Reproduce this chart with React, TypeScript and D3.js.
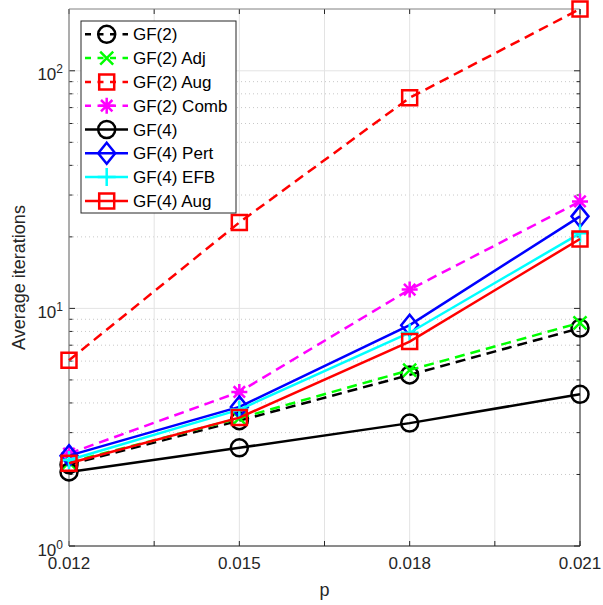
import React from "react";
import * as d3 from "d3";

const P = [0.012, 0.015, 0.018, 0.021];
const GF2 = [2.2, 3.37, 5.25, 8.26];
const GF2_ADJ = [2.25, 3.45, 5.5, 8.7];
const GF2_AUG = [6.05, 23.0, 77, 182];
const GF2_COMB = [2.45, 4.45, 12.0, 28.2];
const GF4 = [2.05, 2.59, 3.29, 4.35];
const GF4_PERT = [2.4, 3.85, 8.5, 24.4];
const GF4_EFB = [2.3, 3.75, 7.9, 20.7];
const GF4_AUG = [2.23, 3.47, 7.25, 19.6];

const X_TICKS = [0.012, 0.0135, 0.015, 0.0165, 0.018, 0.0195, 0.021];
const X_TICK_LABELS = ["0.012", "", "0.015", "", "0.018", "", "0.021"];
const Y_TICKS = [1, 10, 100];
const Y_TICK_EXP = ["0", "1", "2"];

const SERIES = [
  { name: "GF(2)", values: GF2, color: "#000000", dash: true, marker: "circle" },
  { name: "GF(2) Adj", values: GF2_ADJ, color: "#00ff00", dash: true, marker: "x" },
  { name: "GF(2) Aug", values: GF2_AUG, color: "#ff0000", dash: true, marker: "square" },
  { name: "GF(2) Comb", values: GF2_COMB, color: "#ff00ff", dash: true, marker: "asterisk" },
  { name: "GF(4)", values: GF4, color: "#000000", dash: false, marker: "circle" },
  { name: "GF(4) Pert", values: GF4_PERT, color: "#0000ff", dash: false, marker: "diamond" },
  { name: "GF(4) EFB", values: GF4_EFB, color: "#00ffff", dash: false, marker: "plus" },
  { name: "GF(4) Aug", values: GF4_AUG, color: "#ff0000", dash: false, marker: "square" },
];

const FONT = "'Liberation Sans', Arial, Helvetica, sans-serif";
const L = 69, R = 580, T = 9, B = 546;

function markerPath(type: string, cx: number, cy: number): string {
  const p = d3.path();
  if (type === "circle") {
    p.moveTo(cx + 8.5, cy);
    p.arc(cx, cy, 8.5, 0, Math.PI * 2);
  } else if (type === "square") {
    p.rect(cx - 7.5, cy - 7.5, 15, 15);
  } else if (type === "x") {
    const s = 6.5;
    p.moveTo(cx - s, cy - s); p.lineTo(cx + s, cy + s);
    p.moveTo(cx - s, cy + s); p.lineTo(cx + s, cy - s);
  } else if (type === "plus") {
    const s = 9;
    p.moveTo(cx - s, cy); p.lineTo(cx + s, cy);
    p.moveTo(cx, cy - s); p.lineTo(cx, cy + s);
  } else if (type === "asterisk") {
    const s = 8, d = 5.7;
    p.moveTo(cx - s, cy); p.lineTo(cx + s, cy);
    p.moveTo(cx, cy - s); p.lineTo(cx, cy + s);
    p.moveTo(cx - d, cy - d); p.lineTo(cx + d, cy + d);
    p.moveTo(cx - d, cy + d); p.lineTo(cx + d, cy - d);
  } else if (type === "diamond") {
    const w = 8.5, h = 10.5;
    p.moveTo(cx, cy - h); p.lineTo(cx + w, cy); p.lineTo(cx, cy + h); p.lineTo(cx - w, cy); p.closePath();
  }
  return p.toString();
}

export default function App() {
  const allVals = SERIES.flatMap((s) => s.values);
  const x = d3.scaleLinear().domain([P[0], P[P.length - 1]]).range([L, R]);
  const y = d3.scaleLog().domain([1, d3.max(allVals) as number]).range([B, T]);
  const ymax = y.domain()[1];

  const minor: number[] = [];
  for (const dec of Y_TICKS) {
    for (let k = 2; k <= 9; k++) {
      const v = dec * k;
      if (v < ymax) minor.push(v);
    }
  }

  const line = d3.line<number>().x((_, i) => x(P[i])).y((v) => y(v));

  const legX = 81, legY = 21, legW = 155, legH = 192;
  const rowH = 23.8;

  return (
    <svg width={603} height={605} style={{ position: "absolute", left: 0, top: 0, background: "#fff" }} fontFamily={FONT}>
      <rect x={0} y={0} width={603} height={605} fill="#fff" />
      {/* grid */}
      {minor.map((v) => (
        <line key={"mg" + v} x1={L} x2={R} y1={y(v)} y2={y(v)} stroke="#c8c8c8" strokeWidth={1} strokeDasharray="1,3" />
      ))}
      {Y_TICKS.map((v) => (
        <line key={"yg" + v} x1={L} x2={R} y1={y(v)} y2={y(v)} stroke="#e3e3e3" strokeWidth={1} />
      ))}
      {X_TICKS.map((v) => (
        <line key={"xg" + v} x1={x(v)} x2={x(v)} y1={T} y2={B} stroke="#e3e3e3" strokeWidth={1} />
      ))}
      {/* ticks */}
      {X_TICKS.map((v) => (
        <g key={"xt" + v}>
          <line x1={x(v)} x2={x(v)} y1={B} y2={B - 5} stroke="#262626" strokeWidth={1} />
          <line x1={x(v)} x2={x(v)} y1={T} y2={T + 5} stroke="#262626" strokeWidth={1} />
        </g>
      ))}
      {Y_TICKS.map((v) => (
        <g key={"yt" + v}>
          <line x1={L} x2={L + 6} y1={y(v)} y2={y(v)} stroke="#262626" strokeWidth={1} />
          <line x1={R} x2={R - 6} y1={y(v)} y2={y(v)} stroke="#262626" strokeWidth={1} />
        </g>
      ))}
      {minor.map((v) => (
        <g key={"mt" + v}>
          <line x1={L} x2={L + 3.5} y1={y(v)} y2={y(v)} stroke="#262626" strokeWidth={1} />
          <line x1={R} x2={R - 3.5} y1={y(v)} y2={y(v)} stroke="#262626" strokeWidth={1} />
        </g>
      ))}
      {/* axes frame */}
      <line x1={L} x2={R} y1={T} y2={T} stroke="#808080" strokeWidth={1} />
      <line x1={L} x2={L} y1={T} y2={B} stroke="#808080" strokeWidth={1.2} />
      <line x1={L} x2={R} y1={B} y2={B} stroke="#262626" strokeWidth={1} />
      <line x1={R} x2={R} y1={T} y2={B} stroke="#262626" strokeWidth={1} />
      {/* tick labels */}
      {X_TICKS.map((v, i) =>
        X_TICK_LABELS[i] ? (
          <text key={"xl" + v} x={x(v)} y={569} fontSize={17} textAnchor="middle" fill="#262626">
            {X_TICK_LABELS[i]}
          </text>
        ) : null
      )}
      {Y_TICKS.map((v, i) => (
        <text key={"yl" + v} x={63} y={y(v) + 9.5} fontSize={17} textAnchor="end" fill="#262626">
          10
          <tspan fontSize={12} dy={-7}>{Y_TICK_EXP[i]}</tspan>
        </text>
      ))}
      {/* axis labels */}
      <text x={(L + R) / 2} y={596} fontSize={18} textAnchor="middle" fill="#262626">p</text>
      <text transform={`translate(25,${(T + B) / 2}) rotate(-90)`} fontSize={18} textAnchor="middle" fill="#262626">
        Average iterations
      </text>
      {/* series */}
      {SERIES.map((s) => (
        <g key={s.name}>
          <path d={line(s.values) || ""} fill="none" stroke={s.color} strokeWidth={2.5}
            strokeDasharray={s.dash ? "10,6" : undefined} />
          {s.values.map((v, i) => (
            <path key={i} d={markerPath(s.marker, x(P[i]), y(v))} fill="none" stroke={s.color} strokeWidth={2.5} />
          ))}
        </g>
      ))}
      {/* legend */}
      <rect x={legX} y={legY} width={legW} height={legH} fill="#fff" stroke="#262626" strokeWidth={1} />
      {SERIES.map((s, i) => {
        const cy = legY + 13.3 + i * rowH;
        return (
          <g key={"lg" + s.name}>
            <line x1={85} x2={128} y1={cy} y2={cy} stroke={s.color} strokeWidth={2.5}
              strokeDasharray={s.dash ? "6,6.5" : undefined} />
            <path d={markerPath(s.marker, 106.7, cy)} fill="none" stroke={s.color} strokeWidth={2.5} />
            <text x={133} y={cy + 6} fontSize={17} fill="#000">{s.name}</text>
          </g>
        );
      })}
    </svg>
  );
}
